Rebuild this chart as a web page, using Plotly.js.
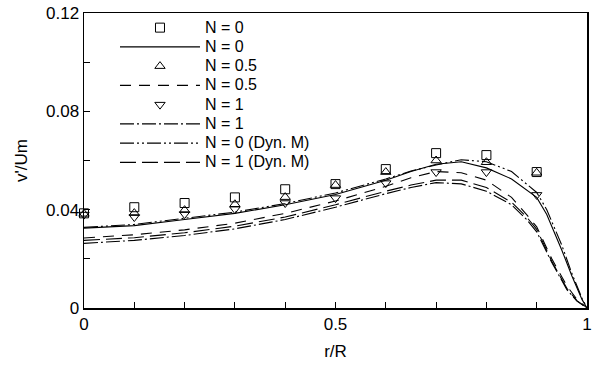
<!DOCTYPE html>
<html>
<head>
<meta charset="utf-8">
<script src="https://cdn.plot.ly/plotly-3.0.1.min.js"></script>
<style>html,body{margin:0;padding:0;background:#fff;}#chart{width:592px;height:365px;}</style>
</head>
<body>
<div id="chart"></div>
<script>
// Measured points (markers)
const rPts = [0, 0.1, 0.2, 0.3, 0.4, 0.5, 0.6, 0.7, 0.8, 0.9];
const expN0 = [0.0385, 0.0410, 0.0427, 0.0450, 0.0483, 0.0504, 0.0565, 0.0630, 0.0622, 0.0553];
const expN05 = [0.0383, 0.0386, 0.0398, 0.0422, 0.0451, 0.0500, 0.0553, 0.0600, 0.0593, 0.0550];
const expN1 = [0.0380, 0.0370, 0.0382, 0.0402, 0.0427, 0.0447, 0.0508, 0.0553, 0.0553, 0.0460];

// Computed curves
const rLine = [0, 0.1, 0.2, 0.3, 0.4, 0.5, 0.6, 0.65, 0.7, 0.75, 0.8, 0.85, 0.9, 0.92, 0.95, 0.97, 0.99, 1.0];
const simN0 = [0.0325, 0.0335, 0.0360, 0.0385, 0.0420, 0.0462, 0.0520, 0.0555, 0.0585, 0.0595, 0.0570, 0.0525, 0.0450, 0.0380, 0.0235, 0.0130, 0.0035, 0];
const simDynN0 = [0.0328, 0.0340, 0.0365, 0.0390, 0.0425, 0.0468, 0.0525, 0.0557, 0.0582, 0.0603, 0.0595, 0.0555, 0.0470, 0.0400, 0.0255, 0.0140, 0.0040, 0];
const rLow = [0, 0.1, 0.2, 0.3, 0.4, 0.5, 0.6, 0.65, 0.7, 0.75, 0.8, 0.85, 0.88, 0.9, 0.93, 0.96, 0.98, 1.0];
const simN05 = [0.0285, 0.0298, 0.0318, 0.0345, 0.0385, 0.0435, 0.0495, 0.0530, 0.0555, 0.0550, 0.0520, 0.0450, 0.0380, 0.0330, 0.0200, 0.0090, 0.0035, 0];
const simDynN1 = [0.0275, 0.0286, 0.0306, 0.0333, 0.0370, 0.0420, 0.0475, 0.0500, 0.0520, 0.0520, 0.0490, 0.0430, 0.0370, 0.0320, 0.0190, 0.0080, 0.0030, 0];
const simN1 = [0.0263, 0.0275, 0.0295, 0.0322, 0.0360, 0.0410, 0.0465, 0.0490, 0.0510, 0.0505, 0.0475, 0.0420, 0.0360, 0.0310, 0.0185, 0.0075, 0.0028, 0];

const names = ['N = 0', 'N = 0', 'N = 0.5', 'N = 0.5', 'N = 1', 'N = 1', 'N = 0 (Dyn. M)', 'N = 1 (Dyn. M)'];

const xTickVals = [0, 0.1, 0.2, 0.3, 0.4, 0.5, 0.6, 0.7, 0.8, 0.9, 1];
const xTickText = ['0', '', '', '', '', '0.5', '', '', '', '', '1'];
const yTickVals = [0, 0.02, 0.04, 0.06, 0.08, 0.10, 0.12];
const yTickText = ['0', '', '0.04', '', '0.08', '', '0.12'];

const blk = '#000';
const nm = (s) => '<span style="font-size:16px">' + s + '</span>';
const mk = (sym) => ({symbol: sym, size: 9, color: blk, line: {color: blk, width: 1}});
const ln = (dash) => ({color: blk, width: 1.1, dash: dash});

const traces = [
  {x: rPts, y: expN0, mode: 'markers', name: nm(names[0]), marker: mk('square-open'), cliponaxis: false},
  {x: rLine, y: simN0, mode: 'lines', name: nm(names[1]), line: ln('solid')},
  {x: rPts, y: expN05, mode: 'markers', name: nm(names[2]), marker: mk('triangle-up-open'), cliponaxis: false},
  {x: rLow, y: simN05, mode: 'lines', name: nm(names[3]), line: ln('11px,8px')},
  {x: rPts, y: expN1, mode: 'markers', name: nm(names[4]), marker: mk('triangle-down-open'), cliponaxis: false},
  {x: rLow, y: simN1, mode: 'lines', name: nm(names[5]), line: ln('14px,3px,2px,3px')},
  {x: rLine, y: simDynN0, mode: 'lines', name: nm(names[6]), line: ln('14px,3px,2px,3px,2px,3px')},
  {x: rLow, y: simDynN1, mode: 'lines', name: nm(names[7]), line: ln('16px,6px')}
];

const fnt = {family: '"Liberation Sans", Arial, sans-serif', color: blk};

const layout = {
  width: 592, height: 365,
  margin: {l: 84, r: 5, t: 13, b: 57},
  paper_bgcolor: '#fff', plot_bgcolor: '#fff',
  font: Object.assign({size: 16}, fnt),
  showlegend: true,
  legend: {
    x: 0.0616, y: 1.0, xanchor: 'left', yanchor: 'top',
    bgcolor: 'rgba(0,0,0,0)', borderwidth: 0,
    font: Object.assign({size: 12.5}, fnt),
    itemwidth: 80, tracegroupgap: 0
  },
  xaxis: {
    range: [0, 1], tickmode: 'array', tickvals: xTickVals, ticktext: xTickText,
    ticks: 'inside', ticklen: 6, tickwidth: 1, tickcolor: blk,
    showline: true, linecolor: blk, linewidth: 1.5, mirror: true,
    showgrid: false, zeroline: false,
    tickfont: Object.assign({size: 17}, fnt),
    title: {text: 'r/R', font: Object.assign({size: 17}, fnt), standoff: 12}
  },
  yaxis: {
    range: [0, 0.12], tickmode: 'array', tickvals: yTickVals, ticktext: yTickText,
    ticks: 'inside', ticklen: 6, tickwidth: 1, tickcolor: blk,
    showline: true, linecolor: blk, linewidth: 1.5, mirror: true,
    showgrid: false, zeroline: false,
    tickfont: Object.assign({size: 17}, fnt),
    title: {text: "v'/Um", font: Object.assign({size: 17}, fnt), standoff: 14}
  }
};

Plotly.newPlot('chart', traces, layout, {displayModeBar: false, staticPlot: true});
</script>
</body>
</html>
